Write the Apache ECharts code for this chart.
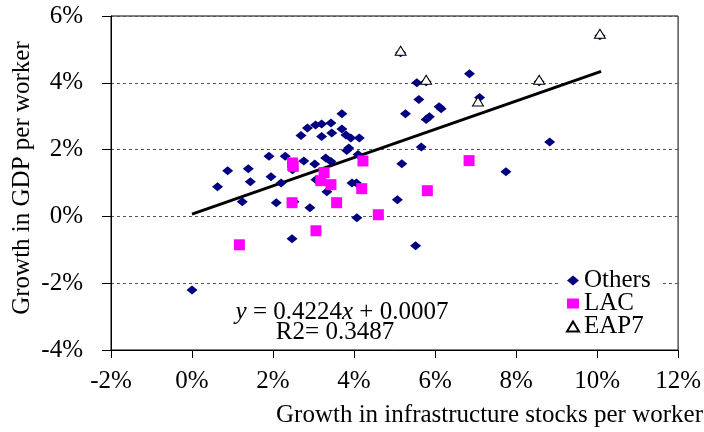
<!DOCTYPE html>
<html>
<head>
<meta charset="utf-8">
<script src="https://cdn.jsdelivr.net/npm/echarts@6/dist/echarts.min.js"></script>
<style>html,body{margin:0;padding:0;background:#fff}#c{width:704px;height:432px}</style>
</head>
<body>
<div id="c"></div>
<script>
// Data (percent units): [infrastructure growth, GDP growth]
const others = [
  [3.7, 3.07], [2.85, 2.65], [3.05, 2.74], [3.2, 2.77], [3.43, 2.8], [2.69, 2.42], [3.2, 2.39],
  [3.45, 2.5], [3.7, 2.62], [3.8, 2.44], [3.92, 2.35], [4.13, 2.35], [3.87, 2.05],
  [1.9, 1.8], [2.3, 1.8], [2.48, 1.4], [2.76, 1.66], [3.03, 1.57], [3.3, 1.75], [3.43, 1.64],
  [3.82, 1.97], [4.1, 1.85], [0.88, 1.37], [1.39, 1.43], [0.63, 0.89], [1.44, 1.04], [1.95, 1.19],
  [2.2, 1.0], [3.06, 1.1], [3.33, 0.74], [3.95, 1.0], [4.06, 1.0], [1.24, 0.44], [2.08, 0.41],
  [2.52, 0.44], [2.91, 0.26], [4.07, -0.04], [2.47, -0.67],
  [5.15, 4.9], [10.07, 5.41], [6.85, 4.27], [5.55, 4.0], [5.78, 4.03], [8.57, 4.03], [7.1, 3.56],
  [5.6, 3.5], [5.27, 3.07], [6.1, 3.28], [6.15, 3.22], [5.78, 2.9], [5.86, 2.98], [5.66, 2.08],
  [8.83, 2.23], [5.18, 1.58], [7.75, 1.34], [5.07, 0.5], [5.52, -0.88], [0, -2.2]
];
const lac = [
  [2.48, 1.6], [2.5, 1.5], [3.26, 1.31], [3.18, 1.07], [3.43, 0.95], [4.22, 1.66], [4.19, 0.83],
  [2.47, 0.41], [3.57, 0.41], [3.06, -0.43], [1.17, -0.85], [6.84, 1.67], [5.81, 0.77], [4.6, 0.05]
];
const eap7 = [
  [5.15, 4.96], [10.07, 5.47], [5.78, 4.09], [8.57, 4.09], [7.06, 3.44]
];
const trend = [[0, 0.07], [10.1, 4.34]];
const xTicks = { min: -2, max: 12, interval: 2 };
const yTicks = { min: -4, max: 6, interval: 2 };
const equationText = ['y', ' = 0.4224', 'x', ' + 0.0007'];
const r2Text = 'R2= 0.3487';
const xName = 'Growth in infrastructure stocks per worker';
const yName = 'Growth in GDP per worker';

const FONT = 'Liberation Serif';
const FS = 25;
const chart = echarts.init(document.getElementById('c'), null, { renderer: 'canvas' });
chart.setOption({
  animation: false,
  backgroundColor: '#fff',
  textStyle: { fontFamily: FONT },
  grid: { left: 111, right: 23, top: 16, bottom: 82, show: true, borderColor: '#000', borderWidth: 1 },
  xAxis: {
    type: 'value', min: xTicks.min, max: xTicks.max, interval: xTicks.interval,
    axisLine: { onZero: false, lineStyle: { color: '#000', width: 1 } },
    axisTick: { show: true, length: 8, lineStyle: { color: '#000' } },
    axisLabel: { formatter: '{value}%', color: '#000', fontSize: FS, fontFamily: FONT, margin: 19 },
    splitLine: { show: false }
  },
  yAxis: {
    type: 'value', min: yTicks.min, max: yTicks.max, interval: yTicks.interval,
    axisLine: { show: true, onZero: false, lineStyle: { color: '#000', width: 1 } },
    axisTick: { show: true, length: 9, lineStyle: { color: '#000' } },
    axisLabel: { formatter: '{value}%', color: '#000', fontSize: FS, fontFamily: FONT, margin: 28 },
    splitLine: { show: true, lineStyle: { color: '#555', type: [3, 3], width: 1 } }
  },
  legend: {
    orient: 'vertical', left: 560, top: 267,
    backgroundColor: '#fff', padding: [1, 10, 1, 6],
    itemWidth: 12, itemHeight: 10, itemGap: -2,
    textStyle: { fontFamily: FONT, fontSize: FS, color: '#000', lineHeight: 22 },
    data: [
      { name: 'Others', icon: 'diamond' },
      { name: 'LAC', icon: 'rect' },
      { name: 'EAP7', icon: 'triangle' }
    ]
  },
  series: [
    {
      type: 'line', data: trend, showSymbol: false, symbol: 'none', silent: true,
      lineStyle: { color: '#000', width: 3 }, z: 2
    },
    {
      name: 'Others', type: 'scatter', data: others, symbol: 'diamond', symbolSize: [11, 9],
      itemStyle: { color: '#000080', opacity: 1 }, z: 3
    },
    {
      name: 'LAC', type: 'scatter', data: lac, symbol: 'rect', symbolSize: 11,
      itemStyle: { color: '#ff00ff', opacity: 1 }, z: 4
    },
    {
      name: 'EAP7', type: 'scatter', data: eap7, symbol: 'triangle', symbolSize: [11, 9],
      itemStyle: { color: '#fff', borderColor: '#000', borderWidth: 1, opacity: 1 }, z: 5
    }
  ],
  graphic: [
    {
      type: 'text', x: 342, y: 312,
      style: {
        text: '{i|' + equationText[0] + '}' + equationText[1] + '{i|' + equationText[2] + '}' + equationText[3],
        fontFamily: FONT, fontSize: FS, fill: '#000', align: 'center', verticalAlign: 'middle',
        rich: { i: { fontStyle: 'italic', fontFamily: FONT, fontSize: FS } }
      }
    },
    {
      type: 'text', x: 335, y: 332,
      style: { text: r2Text, fontFamily: FONT, fontSize: FS, fill: '#000', align: 'center', verticalAlign: 'middle' }
    },
    {
      type: 'text', x: 703, y: 415,
      style: { text: xName, fontFamily: FONT, fontSize: FS, fill: '#000', align: 'right', verticalAlign: 'middle' }
    },
    {
      type: 'text', x: 22, y: 178, rotation: Math.PI / 2,
      style: { text: yName, fontFamily: FONT, fontSize: FS, fill: '#000', align: 'center', verticalAlign: 'middle' }
    }
  ]
});
</script>
</body>
</html>
